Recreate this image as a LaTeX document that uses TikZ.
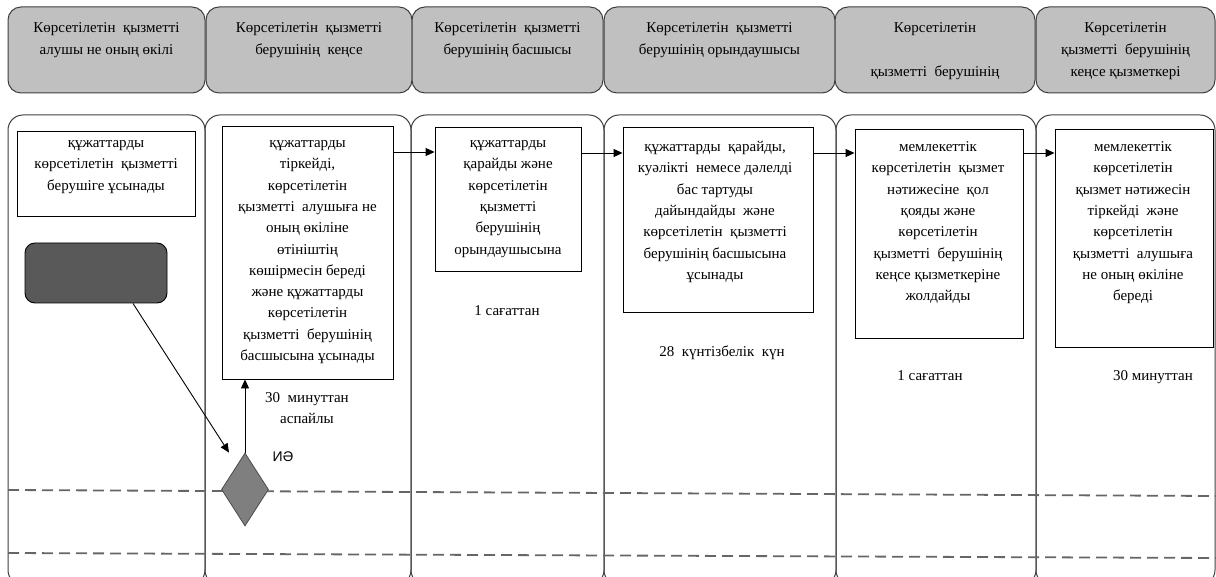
\documentclass[tikz,border=0pt]{standalone}
\usepackage{fontspec}
\setmainfont{Liberation Serif}
\newfontfamily\sansf{Liberation Sans}
\usetikzlibrary{shapes.geometric,arrows.meta,calc}
\definecolor{hdrgray}{HTML}{C0C0C0}
\definecolor{darkbox}{HTML}{595959}
\definecolor{dmgray}{HTML}{7F7F7F}
\definecolor{edgegray}{HTML}{404040}
\newcommand\fst{\rule{0pt}{12pt}}
\begin{document}
\begin{tikzpicture}[x=1pt,y=-1pt,
  lane/.style={draw=edgegray, line width=1pt, rounded corners=15pt},
  hdr/.style={draw=edgegray, fill=hdrgray, line width=1pt, rounded corners=13pt, inner sep=0pt, minimum height=86pt},
  stepbox/.style={draw=black, fill=white, line width=0.9pt, inner sep=0pt},
  txt/.style={align=center, inner sep=0pt, anchor=north, font=\fontsize{15}{21.3}\selectfont},
  htxt/.style={align=center, inner sep=0pt, anchor=north, font=\fontsize{15}{22}\selectfont},
  lbl/.style={inner sep=0pt, anchor=base, font=\fontsize{15}{21}\selectfont},
  arr/.style={draw=black, line width=0.9pt, -{Triangle[length=9pt,width=8pt]}},
  dline/.style={draw=black!60, line width=1.8pt, dash pattern=on 11pt off 6pt}
]
\useasboundingbox (0,0) rectangle (1216,577);
\clip (0,0) rectangle (1216,577);
\fill[white] (0,0) rectangle (1216,577);

% header row
\node[hdr, minimum width=197pt] (h1) at (106.5,50) {};
\node[hdr, minimum width=206pt] (h2) at (309,50) {};
\node[hdr, minimum width=191pt] (h3) at (507.5,50) {};
\node[hdr, minimum width=231pt] (h4) at (719.5,50) {};
\node[hdr, minimum width=200pt] (h5) at (935,50) {};
\node[hdr, minimum width=179pt] (h6) at (1125.5,50) {};
\node[htxt] (h1t) at (106.5,20.4) {\fst Көрсетілетін\ \ қызметті\\алушы не оның өкілі};
\node[htxt] (h2t) at (309,20.4) {\fst Көрсетілетін\ \ қызметті\\берушінің\ \ кеңсе};
\node[htxt] (h3t) at (507.5,20.4) {\fst Көрсетілетін\ \ қызметті\\берушінің басшысы};
\node[htxt] (h4t) at (719.5,20.4) {\fst Көрсетілетін\ \ қызметті\\берушінің орындаушысы};
\node[htxt] (h5t) at (935,20.4) {\fst Көрсетілетін\\[22pt]қызметті\ \ берушінің};
\node[htxt] (h6t) at (1125.5,20.4) {\fst Көрсетілетін\\қызметті\ \ берушінің\\кеңсе қызметкері};

% lanes
\draw[lane] (8,115) rectangle (205,585);
\draw[lane] (205,115) rectangle (411,585);
\draw[lane] (411,115) rectangle (604,585);
\draw[lane] (604,115) rectangle (836,585);
\draw[lane] (836,115) rectangle (1036,585);
\draw[lane] (1036,115) rectangle (1215,585);

% dashed lines
\draw[dline] (8,490) -- (1216,496);
\draw[dline] (8,553) -- (1216,558);

% boxes
\node[stepbox, minimum width=178pt, minimum height=85pt] (b1) at (106,173.5) {};
\node[stepbox, minimum width=171pt, minimum height=253pt] (b2) at (307.5,252.5) {};
\node[stepbox, minimum width=146pt, minimum height=144pt] (b3) at (508,199) {};
\node[stepbox, minimum width=190pt, minimum height=185pt] (b4) at (718,219.5) {};
\node[stepbox, minimum width=168pt, minimum height=209pt] (b5) at (939,233.5) {};
\node[stepbox, minimum width=158pt, minimum height=218pt] (b6) at (1134,238) {};

\node[txt] (b1t) at (106,135.4) {\fst құжаттарды\\көрсетілетін\ \ қызметті\\берушіге ұсынады};
\node[txt] (b2t) at (307.5,135.4) {\fst құжаттарды\\тіркейді,\\көрсетілетін\\қызметті\ \ алушыға не\\оның өкіліне\\өтініштің\\көшірмесін береді\\және құжаттарды\\көрсетілетін\\қызметті\ \ берушінің\\басшысына ұсынады};
\node[txt] (b3t) at (508,135.4) {\fst құжаттарды\\қарайды және\\көрсетілетін\\қызметті\\берушінің\\орындаушысына};
\node[txt] (b4t) at (715,139.4) {\fst құжаттарды\ \ қарайды,\\куәлікті\ \ немесе дәлелді\\бас тартуды\\дайындайды\ \ және\\көрсетілетін\ \ қызметті\\берушінің басшысына\\ұсынады};
\node[txt] (b5t) at (938,139.4) {\fst мемлекеттік\\көрсетілетін\ \ қызмет\\нәтижесіне\ \ қол\\қояды және\\көрсетілетін\\қызметті\ \ берушінің\\кеңсе қызметкеріне\\жолдайды};
\node[txt] (b6t) at (1133,139.4) {\fst мемлекеттік\\көрсетілетін\\қызмет нәтижесін\\тіркейді\ \ және\\көрсетілетін\\қызметті\ \ алушыға\\не оның өкіліне\\береді};

% start and decision
\node[draw=black, fill=darkbox, line width=0.9pt, rounded corners=10pt, minimum width=142pt, minimum height=60pt, inner sep=0pt] (st) at (96,273) {};
\node[diamond, draw=black!70, fill=dmgray, line width=0.8pt, minimum width=47pt, minimum height=73pt, inner sep=0pt] (dm) at (245,489.5) {};
\node[inner sep=0pt, anchor=base, font=\sansf\fontsize{14}{16}\selectfont] (ie) at (283,461) {ИӘ};

% connectors
\draw[arr] ([xshift=37pt]st.south) -- ([xshift=-16pt]dm.north);
\draw[arr] (dm.north) -- (dm.north |- b2.south);
\draw[arr] (b2.east |- 0,152) -- (b3.west |- 0,152);
\draw[arr] (b3.east |- 0,153) -- (b4.west |- 0,153);
\draw[arr] (b4.east |- 0,153) -- (b5.west |- 0,153);
\draw[arr] (b5.east |- 0,153) -- (b6.west |- 0,153);

% time labels
\node[txt] (t2) at (307,390.4) {\fst 30\ \ минуттан\\аспайлы};
\node[lbl] (t3) at (507,316) {1 сағаттан};
\node[lbl] (t4) at (722,357) {28\ \ күнтізбелік\ \ күн};
\node[lbl] (t5) at (930,381) {1 сағаттан};
\node[lbl] (t6) at (1153,381) {30 минуттан};
\end{tikzpicture}
\end{document}
